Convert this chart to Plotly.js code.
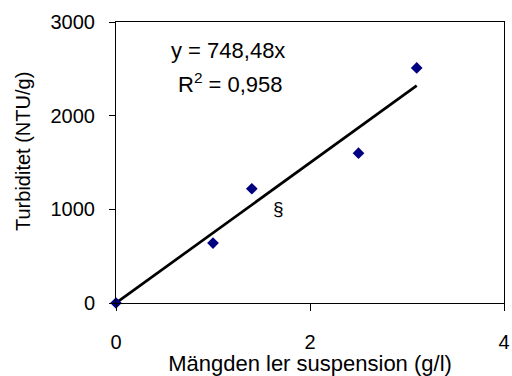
<!DOCTYPE html>
<html><head><meta charset="utf-8">
<script src="https://cdn.plot.ly/plotly-3.0.1.min.js"></script>
<style>html,body{margin:0;padding:0;background:#fff}</style>
</head><body><div id="chart" style="width:512px;height:376px"></div>
<script>
const xValues = [0, 1, 1.4, 2.5, 3.1];
const yValues = [0, 640, 1220, 1600, 2510];
const slope = 748.48;
const trendX = [0, 3.1];
const trendY = trendX.map(x => slope * x);
const xTicks = [0, 2, 4];
const yTicks = [0, 1000, 2000, 3000];
const xTitle = "Mängden ler suspension (g/l)";
const yTitle = "Turbiditet (NTU/g)";
const eqText = "y = 748,48x";
const r2Text = "R<sup>2</sup> = 0,958";
const markText = "§";

const font = "Liberation Sans, Arial, sans-serif";
const data = [
  {x: trendX, y: trendY, mode: "lines", line: {color: "#000", width: 2.7}, hoverinfo: "skip", cliponaxis: false},
  {x: xValues, y: yValues, mode: "markers", marker: {symbol: "diamond", color: "#000080", size: 9}, cliponaxis: false}
];
const layout = {
  width: 512, height: 376,
  margin: {l: 116, r: 8, t: 22, b: 73},
  showlegend: false,
  paper_bgcolor: "#fff", plot_bgcolor: "#fff",
  font: {family: font, color: "#000"},
  xaxis: {range: [0, 4], tickvals: xTicks, ticks: "outside", ticklen: 7, tickcolor: "#000",
    showline: true, linecolor: "#000", linewidth: 1, mirror: true, showgrid: false, zeroline: false,
    tickfont: {size: 20}, ticklabelstandoff: 14,
    title: {text: xTitle, font: {size: 22}, standoff: 0}},
  yaxis: {range: [0, 3000], tickvals: yTicks, ticks: "outside", ticklen: 6, tickcolor: "#000",
    showline: true, linecolor: "#000", linewidth: 1, mirror: true, showgrid: false, zeroline: false,
    tickfont: {size: 20}, ticklabelstandoff: 10},
  annotations: [
    {xref: "paper", yref: "paper", x: -0.2397, y: 0.541, xanchor: "center", yanchor: "middle", textangle: -90, text: yTitle, showarrow: false, font: {size: 20}},
    {xref: "paper", yref: "paper", x: 0.289, y: 0.9, xanchor: "center", yanchor: "middle", text: eqText, showarrow: false, font: {size: 22}},
    {xref: "paper", yref: "paper", x: 0.294, y: 0.783, xanchor: "center", yanchor: "middle", text: r2Text, showarrow: false, font: {size: 22}},
    {xref: "paper", yref: "paper", x: 0.418, y: 0.335, xanchor: "center", yanchor: "middle", text: markText, showarrow: false, font: {size: 19}}
  ]
};
Plotly.newPlot("chart", data, layout, {staticPlot: true, displayModeBar: false});
</script></body></html>
